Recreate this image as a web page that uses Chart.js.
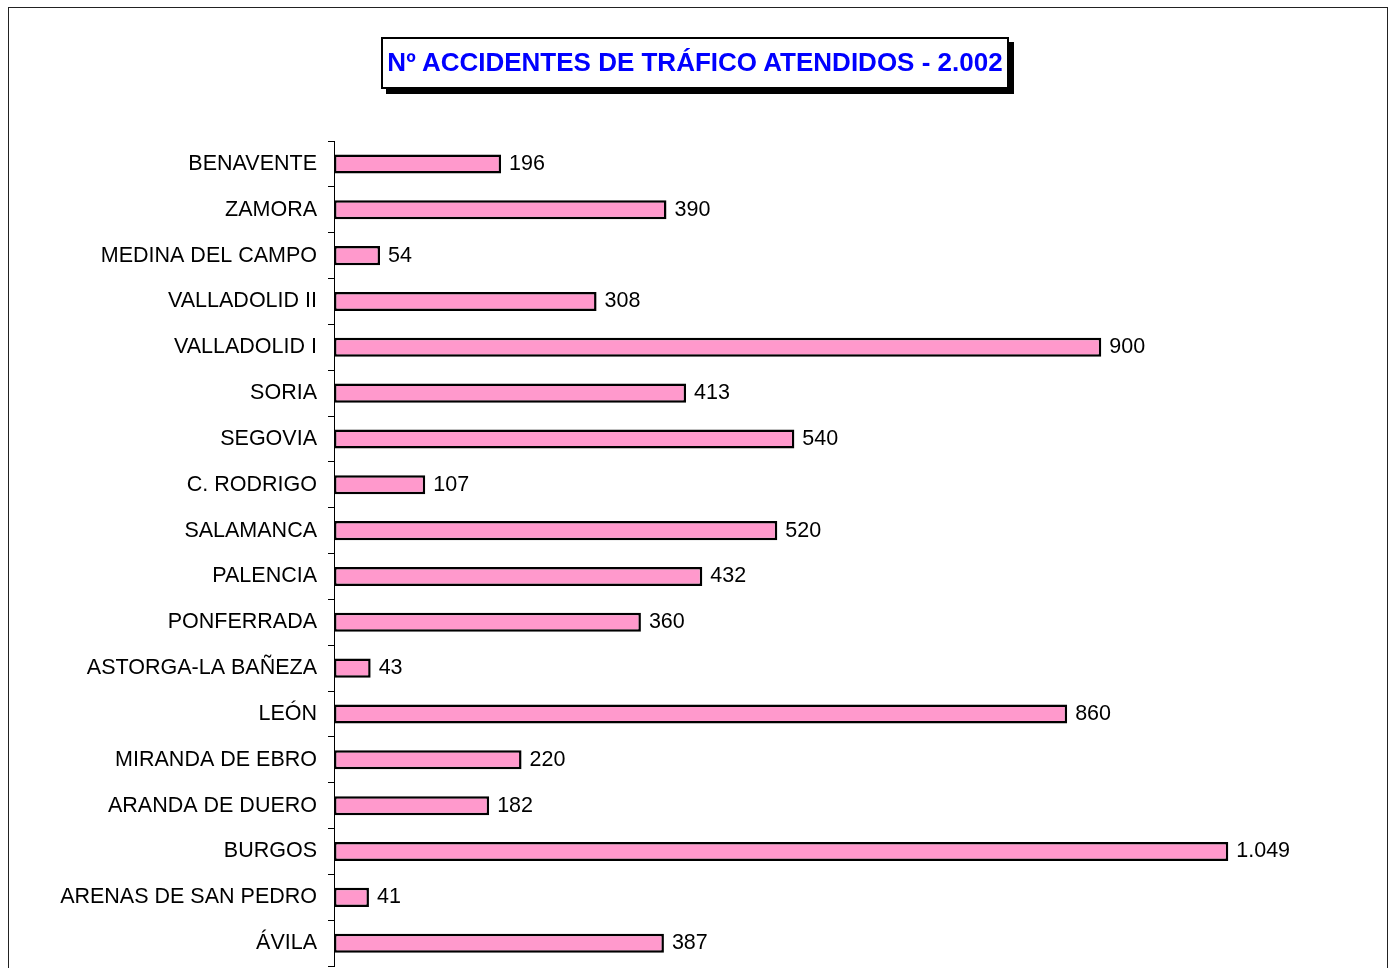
<!DOCTYPE html>
<html>
<head>
<meta charset="utf-8">
<script src="https://cdn.jsdelivr.net/npm/chart.js@4/dist/chart.umd.min.js"></script>
<style>
  html, body { margin: 0; padding: 0; background: #fff; overflow: hidden; }
  #wrap { position: relative; width: 1394px; height: 968px; overflow: hidden; }
  #frame {
    position: absolute; left: 8px; top: 7px; width: 1380px; height: 980px;
    border: 1px solid #222; box-sizing: border-box;
  }
  #titulo {
    position: absolute; left: 381px; top: 37px; width: 628px; height: 52px;
    box-sizing: border-box; border: 2px solid #000; background: #fff;
    box-shadow: 5px 5px 0 #000;
    font: bold 26px "Liberation Sans", Arial, sans-serif; color: #0000ff;
    text-align: center; line-height: 47px; white-space: nowrap;
  }
  canvas { position: absolute; left: 0; top: 0; }
</style>
</head>
<body>
<div id="wrap">
  <div id="frame"></div>
  <canvas id="chartAccidentes" width="1394" height="990"></canvas>
  <div id="titulo">Nº ACCIDENTES DE TRÁFICO ATENDIDOS - 2.002</div>
</div>
<script>
const zonas = ['BENAVENTE', 'ZAMORA', 'MEDINA DEL CAMPO', 'VALLADOLID II', 'VALLADOLID I',
    'SORIA', 'SEGOVIA', 'C. RODRIGO', 'SALAMANCA', 'PALENCIA', 'PONFERRADA',
    'ASTORGA-LA BAÑEZA', 'LEÓN', 'MIRANDA DE EBRO', 'ARANDA DE DUERO', 'BURGOS',
    'ARENAS DE SAN PEDRO', 'ÁVILA'];
const accidentes = [196, 390, 54, 308, 900, 413, 540, 107, 520, 432, 360, 43, 860, 220, 182, 1049, 41, 387];

const fuente = '"Liberation Sans", Arial, sans-serif';

function formatoMiles(v) {
    return String(v).replace(/\B(?=(\d{3})+(?!\d))/g, '.');
}

// etiquetas de valor a la derecha de cada barra
const etiquetasValor = {
    id: 'etiquetasValor',
    afterDatasetsDraw(chart) {
        const ctx = chart.ctx;
        ctx.save();
        ctx.font = '21.5px ' + fuente;
        ctx.fillStyle = '#000';
        ctx.textAlign = 'left';
        ctx.textBaseline = 'middle';
        chart.getDatasetMeta(0).data.forEach((bar, i) => {
            ctx.fillText(formatoMiles(accidentes[i]), bar.x + 8, bar.y);
        });
        ctx.restore();
    }
};

document.addEventListener('DOMContentLoaded', () => {

    new Chart(document.getElementById('chartAccidentes'), {
        type: 'bar',
        data: {
            labels: zonas,
            datasets: [{
                data: accidentes,
                backgroundColor: '#ff99cc',
                borderColor: '#000',
                borderWidth: 2.5,
                borderSkipped: false,
                barPercentage: 0.8,
                categoryPercentage: 0.52
            }]
        },
        options: {
            indexAxis: 'y',
            responsive: false,
            animation: false,
            layout: { padding: { left: 0, right: 37, top: 141, bottom: 2 } },
            plugins: {
                legend: { display: false },
                title: { display: false },
                tooltip: { enabled: false }
            },
            scales: {
                x: {
                    display: false,
                    min: 0,
                    max: 1200
                },
                y: {
                    afterFit(scale) { scale.width = 334; },
                    border: { display: true, color: '#000', width: 1 },
                    grid: {
                        display: true,
                        drawOnChartArea: false,
                        drawTicks: true,
                        tickLength: 6,
                        color: '#000',
                        offset: true
                    },
                    ticks: {
                        color: '#000',
                        padding: 11,
                        font: { family: fuente, size: 21.5 }
                    }
                }
            }
        },
        plugins: [etiquetasValor]
    });

});
</script>
</body>
</html>
